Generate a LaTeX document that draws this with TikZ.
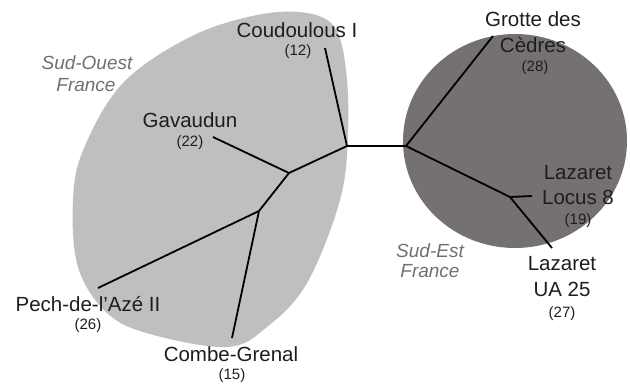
\documentclass[tikz,border=0pt]{standalone}
\usepackage{fontspec}
\setmainfont{Liberation Sans}
\definecolor{lightblob}{RGB}{192,191,192}
\definecolor{darkblob}{RGB}{117,113,112}
\definecolor{txt}{RGB}{30,30,30}
\definecolor{regtxt}{RGB}{112,112,112}
\begin{document}
\begin{tikzpicture}[x=1pt,y=-1pt,
  lbl/.style={font=\fontsize{20.5}{25}\selectfont, text=txt, anchor=base, inner sep=0pt},
  num/.style={font=\fontsize{15}{18}\selectfont, text=txt, anchor=base, inner sep=0pt},
  reg/.style={font=\fontsize{19}{23}\selectfont\itshape, text=regtxt, anchor=base, inner sep=0pt},
  branch/.style={line width=1.8pt, black}]
\useasboundingbox (0,0) rectangle (630,385);
% regions
\fill[lightblob] plot[smooth cycle, tension=0.6] coordinates {
  (307,13) (335,28) (346,70) (348,133) (340,200) (307,283) (267,327) (227,347)
  (150,334) (107,313) (78,267) (73,200) (84,148) (123,83) (190,37) (257,15)};
\fill[darkblob] (515,141) ellipse [x radius=112, y radius=107];
% tree
\coordinate (A) at (347,146);
\coordinate (B) at (406,146);
\coordinate (C) at (289,173);
\coordinate (D) at (259,211);
\coordinate (E) at (510,197);
\coordinate (coud) at (325,48);
\coordinate (gav) at (213,137);
\coordinate (pech) at (98,288);
\coordinate (combe) at (232,338);
\coordinate (grotte) at (493,36);
\coordinate (locus) at (532,196);
\coordinate (ua) at (552,248);
\draw[branch] (A) -- (B);
\draw[branch] (A) -- (coud);
\draw[branch] (A) -- (C);
\draw[branch] (C) -- (gav);
\draw[branch] (C) -- (D);
\draw[branch] (D) -- (pech);
\draw[branch] (D) -- (combe);
\draw[branch] (B) -- (grotte);
\draw[branch] (B) -- (E);
\draw[branch] (E) -- (locus);
\draw[branch] (E) -- (ua);
% labels
\node[lbl] (lcoud) at (297,38) {Coudoulous I};
\node[num] (ncoud) at (298,56) {(12)};
\node[lbl] (lgav) at (190,128) {Gavaudun};
\node[num] (ngav) at (190,147) {(22)};
\node[lbl] (lpech) at (88,311) {Pech-de-l’Azé II};
\node[num] (npech) at (88,330) {(26)};
\node[lbl] (lcombe) at (231,361) {Combe-Grenal};
\node[num] (ncombe) at (232,379) {(15)};
\node[lbl] (lgrotte1) at (533,27) {Grotte des};
\node[lbl] (lgrotte2) at (533,53) {Cèdres};
\node[num] (ngrotte) at (535,72) {(28)};
\node[lbl] (llocus1) at (578,180) {Lazaret};
\node[lbl] (llocus2) at (578,205) {Locus 8};
\node[num] (nlocus) at (578,225) {(19)};
\node[lbl] (lua1) at (562,271) {Lazaret};
\node[lbl] (lua2) at (562,297) {UA 25};
\node[num] (nua) at (562,317) {(27)};
\node[reg] (so1) at (87,70) {Sud-Ouest};
\node[reg] (so2) at (86,92) {France};
\node[reg] (se1) at (430,258) {Sud-Est};
\node[reg] (se2) at (430,278) {France};
\end{tikzpicture}
\end{document}
